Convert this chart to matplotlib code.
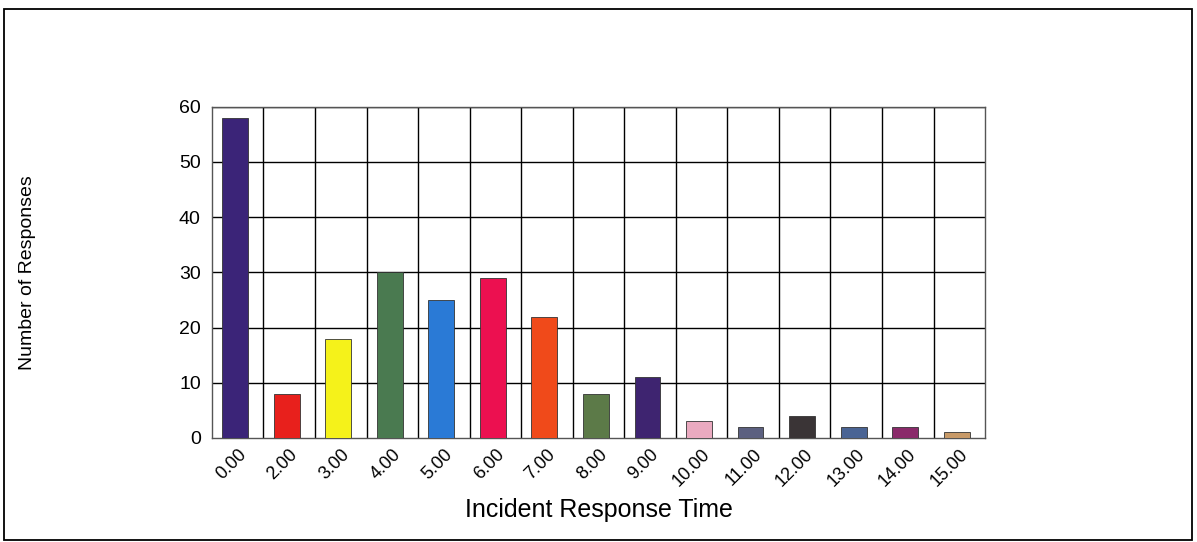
import numpy as np
import matplotlib.pyplot as plt
from matplotlib.patches import Rectangle

plt.rcParams['font.family'] = ['Liberation Sans', 'DejaVu Sans']

categories = ['0.00', '2.00', '3.00', '4.00', '5.00', '6.00', '7.00', '8.00',
              '9.00', '10.00', '11.00', '12.00', '13.00', '14.00', '15.00']
responses = [58, 8, 18, 30, 25, 29, 22, 8, 11, 3, 2, 4, 2, 2, 1]
colors = ['#3b2478', '#e8201c', '#f5f21a', '#4a7a50', '#2a7ad6', '#ec1050',
          '#f04a1a', '#5c7a48', '#3e2470', '#eaaac0', '#5c6080', '#3a3436',
          '#4a6494', '#8a2a6a', '#c89a68']

fig = plt.figure(figsize=(11.97, 5.42), dpi=100)
ax = fig.add_axes([0.177, 0.192, 0.646, 0.611])

x = np.arange(len(categories))
ax.bar(x - 0.05, responses, width=0.5, color=colors, edgecolor='#333333', linewidth=0.6, zorder=3)

ax.set_xlim(-0.5, len(categories) - 0.5)
ax.set_ylim(0, 60)
ax.set_yticks(range(0, 61, 10))
ax.set_xticks(x)
ax.set_xticklabels(categories, rotation=45, ha='right', rotation_mode='anchor', fontsize=13)
ax.tick_params(axis='y', labelsize=14, length=0, pad=8)
ax.tick_params(axis='x', length=0, pad=6)

# grid: horizontal at y ticks, vertical between categories
for yv in range(10, 61, 10):
    ax.axhline(yv, color='black', linewidth=1.0, zorder=1)
for xv in np.arange(0.5, len(categories) - 0.5, 1):
    ax.axvline(xv, color='black', linewidth=1.0, zorder=1)
for s in ax.spines.values():
    s.set_color('#555555')
    s.set_linewidth(1.0)

ax.set_xlabel('Incident Response Time', fontsize=18, labelpad=8)
ax.set_ylabel('Number of Responses', fontsize=14, labelpad=0)
ax.yaxis.set_label_coords(-0.228, 0.5)
ax.xaxis.set_label_coords(0.5, -0.18)

fig.patches.append(Rectangle((0.003, 0.004), 0.993, 0.98, transform=fig.transFigure,
                             fill=False, edgecolor='black', linewidth=1.3))

fig.savefig('out.png', dpi=100)
